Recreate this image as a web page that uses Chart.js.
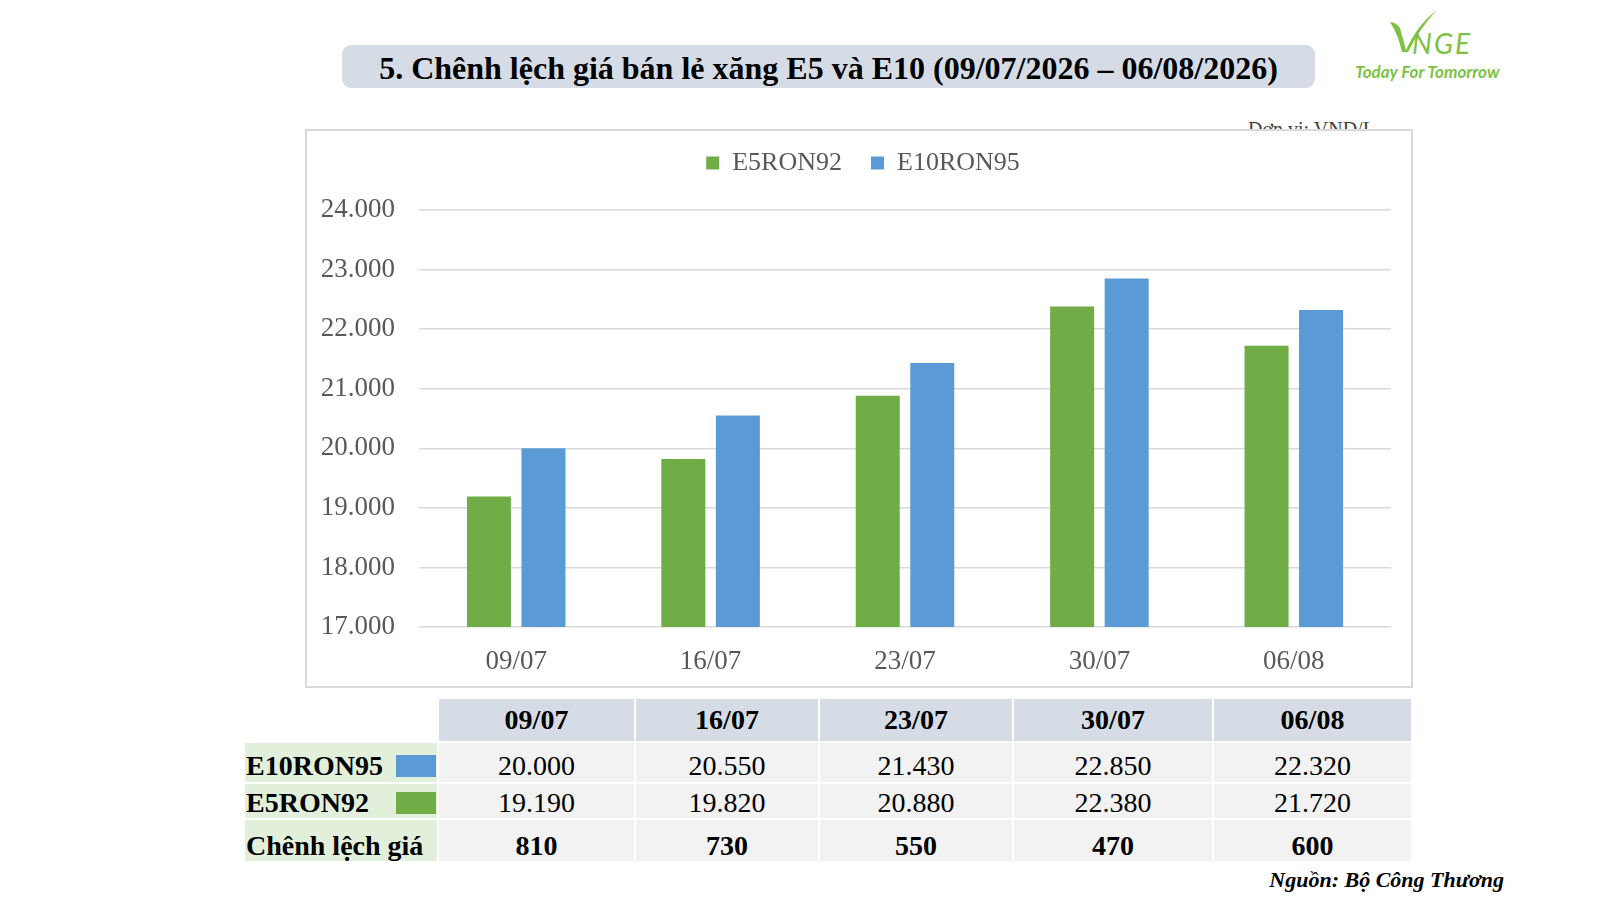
<!DOCTYPE html>
<html>
<head>
<meta charset="utf-8">
<script src="https://cdn.jsdelivr.net/npm/chart.js"></script>
<style>
  body { margin: 0; width: 1600px; height: 900px; background: #fff; position: relative; overflow: hidden;
         font-family: "Liberation Serif", "Times New Roman", serif; }
  .title { position: absolute; left: 342px; top: 45px; width: 973px; height: 43px; background: #d6dce5;
           border-radius: 9px; text-align: center; line-height: 46px; font-size: 32px; font-weight: bold; color: #000; }
  .unit { position: absolute; left: 1248px; top: 119px; font-size: 20px; line-height: 20px; color: #404040; z-index: 1; }
  .chartBox { position: absolute; left: 305px; top: 129px; width: 1108px; height: 559px; border: 2px solid #d9d9d9;
              box-sizing: border-box; background: #fff; z-index: 2; }
  .logo { position: absolute; left: 1350px; top: 6px; width: 160px; height: 80px; }
  .logo .nge { position: absolute; left: 62px; top: 20px; font-family: Lato, sans-serif; font-style: italic;
               font-size: 28px; color: #7dc243; letter-spacing: 2px; }
  .logo .tag { position: absolute; left: 5px; top: 55px; font-family: Lato, sans-serif; font-style: italic;
               font-weight: bold; font-size: 17px; color: #7dc243; white-space: nowrap; }
  .grid { position: absolute; left: 245px; top: 699px; display: grid;
          grid-template-columns: 192px 195px 182px 192px 198px 197px;
          grid-template-rows: 42px 39px 34px 41px; column-gap: 2px; row-gap: 2px; }
  .grid div { display: flex; align-items: center; justify-content: center; font-size: 28px; color: #000; box-sizing: border-box; }
  .grid .hd { background: #d6dce5; font-weight: bold; }
  .grid .lb { background: #e2efda; justify-content: space-between; font-weight: bold; padding-left: 1px; }
  .grid .cell { background: #f2f2f2; }
  .grid .r1 { padding-top: 7px; }
  .grid .r2 { padding-top: 3px; }
  .grid .r3 { padding-top: 10px; }
  .grid .bold { font-weight: bold; }
  .sw { display: inline-block; width: 40px; height: 22px; margin-right: 1px; }
  .source { position: absolute; right: 96px; top: 867px; font-size: 22px; line-height: 26px; font-weight: bold; font-style: italic; }
</style>
</head>
<body>
<div class="title">5. Chênh lệch giá bán lẻ xăng E5 và E10 (09/07/2026 – 06/08/2026)</div>
<div class="logo">
  <svg width="90" height="50" style="position:absolute;left:38px;top:2px">
    <path d="M2 14 Q8 14 12 20 L18 42 Q30 16 48 3 Q32 20 20 44 L14 44 Q10 26 2 14 Z" fill="#7dc243"/>
  </svg>
  <span class="nge">NGE</span>
  <span class="tag">Today For Tomorrow</span>
</div>
<div class="unit">Đơn vị: VND/L</div>
<div class="chartBox"><canvas id="myChart" width="1104" height="555"></canvas></div>
<div class="grid" id="table"></div>
<div class="source">Nguồn: Bộ Công Thương</div>

<script>
// data
var dates = ['09/07', '16/07', '23/07', '30/07', '06/08'];
var e5ron92 = [19190, 19820, 20880, 22380, 21720];
var e10ron95 = [20000, 20550, 21430, 22850, 22320];
var priceGap = [810, 730, 550, 470, 600];
var yTicks = [17000, 18000, 19000, 20000, 21000, 22000, 23000, 24000];

var green = '#70ad47', blue = '#5b9bd5';
var serif = '"Liberation Serif", "Times New Roman", serif';

function fmt(n) {
  return String(n).replace(/\B(?=(\d{3})+(?!\d))/g, '.');
}

// table under the chart
var table = document.getElementById('table');
function addCell(cls, html) {
  var d = document.createElement('div');
  d.className = cls;
  d.innerHTML = html;
  table.appendChild(d);
}
addCell('', '');
dates.forEach(function (d) { addCell('hd', d); });
addCell('lb r1', 'E10RON95<span class="sw" style="background:' + blue + '"></span>');
e10ron95.forEach(function (v) { addCell('cell r1', fmt(v)); });
addCell('lb r2', 'E5RON92<span class="sw" style="background:' + green + '"></span>');
e5ron92.forEach(function (v) { addCell('cell r2', fmt(v)); });
addCell('lb r3', 'Chênh lệch giá');
priceGap.forEach(function (v) { addCell('cell bold r3', fmt(v)); });

// push the plot area down below the legend, and nudge the legend right
var legendSpace = {
  id: 'legendSpace',
  beforeInit: function (chart) {
    var fit = chart.legend.fit;
    chart.legend.fit = function () {
      fit.bind(chart.legend)();
      this.height += 24;
    };
  },
  afterLayout: function (chart) {
    chart.legend.left += 14;
    chart.legend.right += 14;
  }
};

var ctx = document.getElementById('myChart').getContext('2d');
new Chart(ctx, {
  type: 'bar',
  data: {
    labels: dates,
    datasets: [
      { label: 'E5RON92', data: e5ron92, backgroundColor: green },
      { label: 'E10RON95', data: e10ron95, backgroundColor: blue }
    ]
  },
  options: {
    responsive: false,
    animation: false,
    devicePixelRatio: 1,
    categoryPercentage: 0.561,
    barPercentage: 0.807,
    layout: { padding: { top: -10, left: 0, right: 20, bottom: 0 } },
    plugins: {
      tooltip: { enabled: false },
      legend: {
        position: 'top',
        labels: {
          boxWidth: 13, boxHeight: 13, padding: 29, color: '#595959',
          font: { family: serif, size: 26 }
        }
      }
    },
    scales: {
      x: {
        grid: { display: false, drawTicks: false },
        border: { display: false },
        ticks: { color: '#595959', padding: 19, font: { family: serif, size: 27 } },
        afterFit: function (scale) { scale.height = 59; }
      },
      y: {
        min: yTicks[0],
        max: yTicks[yTicks.length - 1],
        afterBuildTicks: function (scale) {
          scale.ticks = yTicks.map(function (v) { return { value: v }; });
        },
        grid: { color: '#d9d9d9', lineWidth: 1.5, drawTicks: false },
        border: { display: false },
        ticks: {
          color: '#595959', padding: 24, font: { family: serif, size: 27 },
          callback: function (v) { return fmt(v); }
        },
        afterFit: function (scale) { scale.width = 112; }
      }
    }
  },
  plugins: [legendSpace]
});
</script>
</body>
</html>
